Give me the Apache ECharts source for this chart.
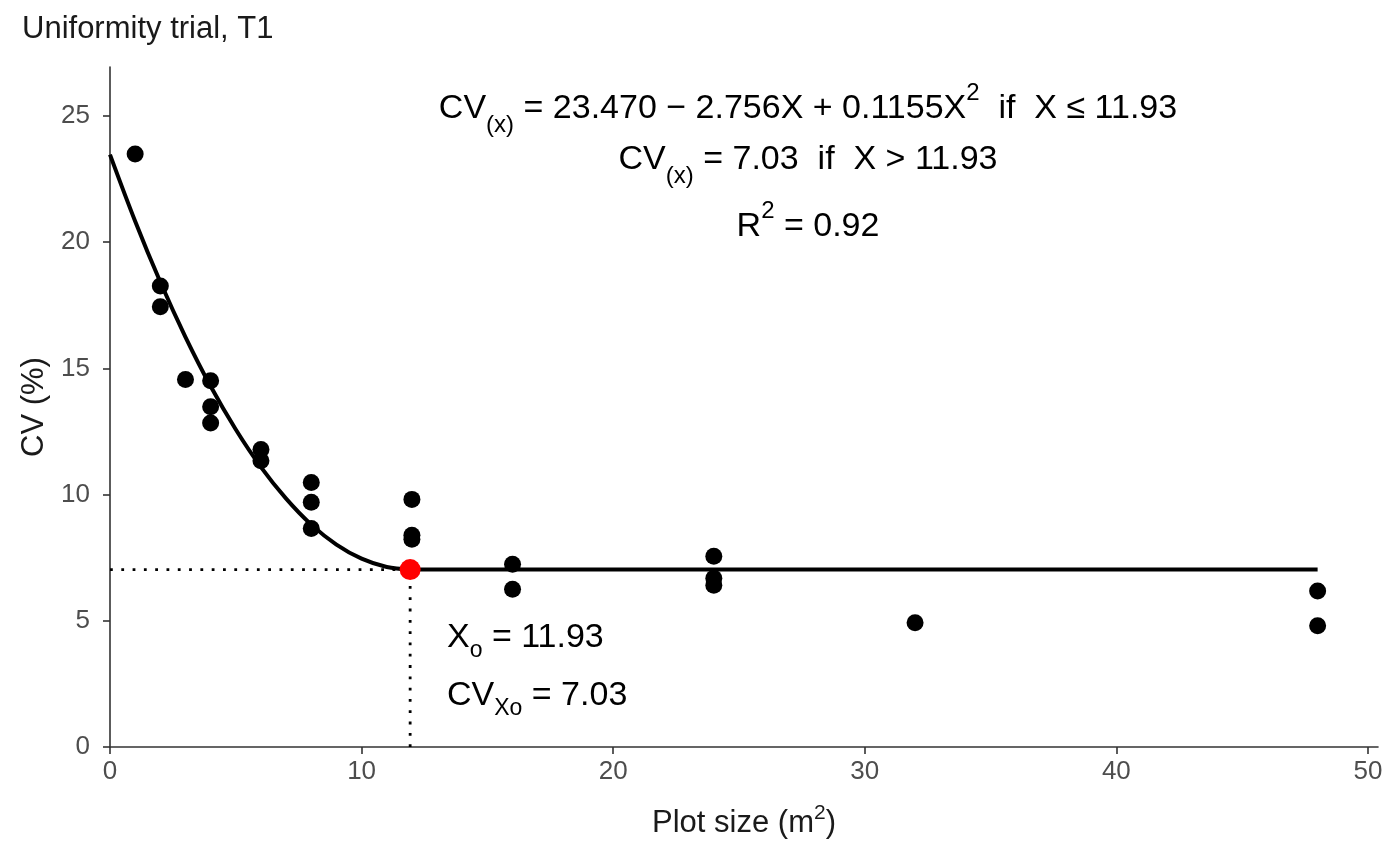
<!DOCTYPE html>
<html>
<head>
<meta charset="utf-8">
<script src="https://cdn.jsdelivr.net/npm/echarts@6/dist/echarts.min.js"></script>
<style>
html,body{margin:0;padding:0;background:#fff;}
#c{width:1400px;height:866px;}
</style>
</head>
<body>
<div id="c"></div>
<script>
// Observed data
var plotSize = [1, 2, 2, 3, 4, 4, 4, 6, 6, 8, 8, 8, 12, 12, 12, 16, 16, 24, 24, 24, 32, 48, 48];
var cvValues = [23.49, 18.26, 17.44, 14.56, 14.51, 13.48, 12.84, 11.79, 11.34, 10.48, 9.70, 8.66, 9.81, 8.39, 8.23, 7.24, 6.25, 7.56, 6.69, 6.41, 4.92, 6.18, 4.80];

// Fitted quadratic-plateau curve
var curveX = [0, 1, 2, 3, 4, 5, 6, 7, 8, 9, 10, 11, 11.93];
var curveY = [23.47, 20.83, 18.42, 16.24, 14.29, 12.58, 11.09, 9.84, 8.81, 8.02, 7.46, 7.13, 7.03];
var plateauX = [11.93, 48];
var plateauY = [7.03, 7.03];

// Join point
var joinX = 11.93;
var joinY = 7.03;

// Axis ticks
var xTicks = [0, 10, 20, 30, 40, 50];
var yTicks = [0, 5, 10, 15, 20, 25];

var FONT = '"Liberation Sans", Arial, Helvetica, sans-serif';

function pairs(xs, ys) { return xs.map(function (x, i) { return [x, ys[i]]; }); }

var chart = echarts.init(document.getElementById('c'), null, { renderer: 'canvas' });

var rich = {
  n: { fontSize: 34, lineHeight: 56, verticalAlign: 'middle', fontFamily: FONT, color: '#000' },
  sub: { fontSize: 24, lineHeight: 24, verticalAlign: 'bottom', fontFamily: FONT, color: '#000' },
  sup: { fontSize: 24, lineHeight: 40, verticalAlign: 'top', fontFamily: FONT, color: '#000' }
};
var rich2 = {
  n: { fontSize: 34, lineHeight: 48, verticalAlign: 'middle', fontFamily: FONT, color: '#000' },
  sub: { fontSize: 23, lineHeight: 26, verticalAlign: 'bottom', fontFamily: FONT, color: '#000' }
};

function txt(x, y, text, align, r) {
  return {
    type: 'text', x: x, y: y, z: 100,
    style: { text: text, align: align, verticalAlign: 'top', rich: r || rich, font: '34px ' + FONT, fill: '#000' }
  };
}

var option = {
  backgroundColor: '#ffffff',
  animation: false,
  title: {
    text: 'Uniformity trial, T1',
    left: 22, top: 14, padding: 0,
    textStyle: { fontFamily: FONT, fontSize: 31, fontWeight: 'normal', color: '#1a1a1a' }
  },
  grid: { left: 110, right: 22, top: 67, bottom: 119, containLabel: false },
  xAxis: {
    type: 'value', min: 0, max: 50.4,
    name: '{a|Plot size (m}{s|2}{a|)}',
    nameLocation: 'middle', nameGap: 56,
    nameTextStyle: {
      rich: {
        a: { fontFamily: FONT, fontSize: 31, color: '#1a1a1a', lineHeight: 40, verticalAlign: 'middle' },
        s: { fontFamily: FONT, fontSize: 21, color: '#1a1a1a', lineHeight: 30, verticalAlign: 'top' }
      }
    },
    splitLine: { show: false },
    axisLine: { onZero: false, lineStyle: { color: '#333', width: 1.6 } },
    axisTick: { length: 7, lineStyle: { color: '#333', width: 1.6 }, customValues: xTicks },
    axisLabel: { customValues: xTicks, fontFamily: FONT, fontSize: 26, color: '#4D4D4D', margin: 12 }
  },
  yAxis: {
    type: 'value', min: 0, max: 26.94,
    name: 'CV (%)', nameLocation: 'middle', nameGap: 60, nameRotate: 90,
    nameTextStyle: { fontFamily: FONT, fontSize: 31, color: '#1a1a1a' },
    splitLine: { show: false },
    axisLine: { onZero: false, lineStyle: { color: '#333', width: 1.6 } },
    axisTick: { length: 7, lineStyle: { color: '#333', width: 1.6 }, customValues: yTicks },
    axisLabel: { customValues: yTicks, fontFamily: FONT, fontSize: 26, color: '#4D4D4D', margin: 20 }
  },
  series: [
    {
      type: 'line', name: 'hguide', data: [[0, joinY], [joinX, joinY]],
      showSymbol: false, symbol: 'none', silent: true, z: 1,
      lineStyle: { color: '#000', width: 2.8, type: [2.8, 8.5], cap: 'butt' }
    },
    {
      type: 'line', name: 'vguide', data: [[joinX, 0], [joinX, joinY]],
      showSymbol: false, symbol: 'none', silent: true, z: 1,
      lineStyle: { color: '#000', width: 2.8, type: [2.8, 8.5], cap: 'butt' }
    },
    {
      type: 'line', name: 'curve', data: pairs(curveX, curveY),
      smooth: 0.35, showSymbol: false, symbol: 'none', z: 2,
      lineStyle: { color: '#000', width: 4 }
    },
    {
      type: 'line', name: 'plateau', data: pairs(plateauX, plateauY),
      showSymbol: false, symbol: 'none', z: 2,
      lineStyle: { color: '#000', width: 4, cap: 'butt' }
    },
    {
      type: 'scatter', name: 'obs', data: pairs(plotSize, cvValues),
      symbolSize: 17, z: 3,
      itemStyle: { color: '#000', opacity: 1 }
    },
    {
      type: 'scatter', name: 'join', data: [[joinX, joinY]],
      symbolSize: 21, z: 4,
      itemStyle: { color: '#FF0000', opacity: 1 }
    }
  ],
  graphic: [
    txt(808, 81, '{n|CV}{sub|(x)}{n| = 23.470 \u2212 2.756X + 0.1155X}{sup|2}{n|  if  X \u2264 11.93}', 'center'),
    txt(808, 132, '{n|CV}{sub|(x)}{n| = 7.03  if  X > 11.93}', 'center'),
    txt(808, 199, '{n|R}{sup|2}{n| = 0.92}', 'center'),
    txt(447, 614, '{n|X}{sub|o}{n| = 11.93}', 'left', rich2),
    txt(447, 672, '{n|CV}{sub|Xo}{n| = 7.03}', 'left', rich2)
  ]
};
chart.setOption(option);
</script>
</body>
</html>
